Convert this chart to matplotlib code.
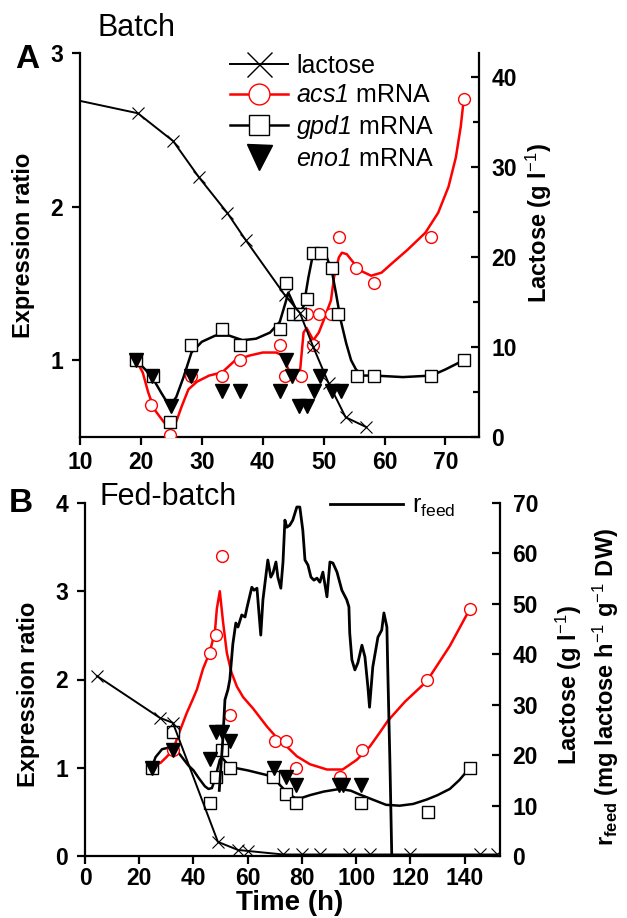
import matplotlib
matplotlib.use("Agg")
import matplotlib.pyplot as plt
from matplotlib.lines import Line2D

plt.rcParams["font.family"] = "Liberation Sans"
plt.rcParams["mathtext.fontset"] = "custom"
plt.rcParams["mathtext.rm"] = "Liberation Sans"
plt.rcParams["mathtext.it"] = "Liberation Sans:italic"
plt.rcParams["mathtext.bf"] = "Liberation Sans:bold"
plt.rcParams["mathtext.sf"] = "Liberation Sans:italic"  # gene names, digits included

# ---------------------------------------------------------------------------
# Panel A - batch
# ---------------------------------------------------------------------------
a_lac_t = [5, 19.5, 25.3, 29.5, 34.2, 37.2, 43.6, 46.1, 48.3, 50.8, 53.6, 57.0]
a_lac = [38.1, 36.0, 32.9, 28.9, 24.9, 21.9, 15.8, 13.8, 10.0, 6.0, 2.2, 1.1]

a_acs1_t = [19.2, 21.7, 24.8, 28.3, 33.3, 36.3, 42.8, 43.7, 46.2, 47.2, 48.3,
            49.2, 51.2, 52.5, 55.3, 58.3, 67.7, 73.0]
a_acs1 = [1.0, 0.71, 0.51, 0.9, 0.9, 1.0, 1.1, 0.9, 0.9, 1.3, 1.1,
          1.3, 1.3, 1.8, 1.6, 1.5, 1.8, 2.7]

a_gpd1_t = [19.2, 22.0, 24.8, 28.3, 33.3, 36.3, 42.8, 43.8, 45.0, 46.1, 47.3,
            48.2, 49.5, 51.3, 52.4, 55.4, 58.3, 67.7, 73.0]
a_gpd1 = [1.0, 0.9, 0.6, 1.1, 1.2, 1.1, 1.2, 1.5, 1.3, 1.3, 1.4,
          1.7, 1.7, 1.6, 1.3, 0.9, 0.9, 0.9, 1.0]

a_eno1_t = [19.2, 21.9, 24.9, 28.3, 33.3, 36.3, 42.8, 43.8, 44.8, 46.0, 47.2,
            48.4, 49.4, 51.3, 52.8]
a_eno1 = [1.0, 0.9, 0.7, 0.9, 0.8, 0.8, 0.8, 1.0, 0.9, 0.7, 0.7,
          0.8, 0.9, 0.8, 0.8]

# fitted curves
a_acs1_fit_t = [19.2, 20.3, 21.2, 22.2, 23.7, 24.7, 25.8, 26.7, 27.8, 29.2, 31.2,
                33.3, 35.5, 37.8, 40.0, 42.2, 43.3, 44.2, 44.7, 46.1, 46.7, 47.2,
                48.3, 49.2, 50.0, 51.2, 51.7, 52.5, 53.0, 53.8, 55.0, 56.2, 57.8,
                59.5, 61.2, 63.8, 66.7, 68.8, 70.5, 71.7, 72.5, 73.0]
a_acs1_fit = [1.0, 0.92, 0.79, 0.68, 0.60, 0.56, 0.60, 0.70, 0.81, 0.86, 0.90,
              0.92, 1.0, 1.03, 1.05, 1.05, 1.03, 0.94, 0.90, 0.92, 1.18, 1.21,
              1.13, 1.18, 1.26, 1.39, 1.54, 1.67, 1.70, 1.69, 1.63, 1.58, 1.55,
              1.57, 1.63, 1.72, 1.83, 1.96, 2.13, 2.32, 2.52, 2.70]

a_gpd1_fit_t = [19.2, 21.7, 23.3, 24.7, 25.8, 27.0, 28.3, 30.0, 32.2, 34.5, 36.7,
                38.9, 41.2, 42.8, 43.7, 44.2, 45.0, 45.8, 46.7, 47.5, 48.3, 49.5,
                50.5, 51.3, 52.0, 52.8, 53.7, 54.5, 55.3, 56.3, 58.3, 63.0, 67.7,
                70.0, 73.0]
a_gpd1_fit = [1.0, 0.9, 0.79, 0.70, 0.76, 0.89, 1.05, 1.12, 1.16, 1.16, 1.13,
              1.14, 1.18, 1.25, 1.37, 1.44, 1.37, 1.30, 1.35, 1.54, 1.70, 1.71,
              1.67, 1.59, 1.44, 1.26, 1.11, 1.0, 0.94, 0.9, 0.9, 0.89, 0.9,
              0.94, 1.0]

# ---------------------------------------------------------------------------
# Panel B - fed-batch
# ---------------------------------------------------------------------------
b_lac_t = [4.4, 27.6, 32.4, 49.0, 56.4, 60.0, 73.0, 80.0, 86.5, 97.5, 105.0,
           120.0, 145.5, 152.0]
b_lac = [35.7, 27.4, 26.4, 2.8, 1.2, 1.0, 0.3, 0.3, 0.3, 0.3, 0.3,
         0.3, 0.3, 0.3]

b_acs1_t = [24.6, 32.4, 46.0, 48.3, 50.4, 53.4, 70.0, 74.2, 77.7, 94.0, 102.0,
            126.2, 141.9]
b_acs1 = [1.0, 1.2, 2.3, 2.5, 3.4, 1.6, 1.3, 1.3, 1.0, 0.9, 1.2, 2.0, 2.8]

b_gpd1_t = [24.6, 32.4, 46.2, 48.3, 50.4, 53.4, 69.3, 74.0, 77.7, 101.7,
            126.4, 141.9]
b_gpd1 = [1.0, 1.4, 0.6, 0.9, 1.2, 1.0, 0.9, 0.7, 0.6, 0.6, 0.5, 1.0]

b_eno1_t = [24.6, 32.4, 46.1, 48.3, 50.6, 53.4, 69.8, 74.2, 77.7, 93.8, 95.2, 101.7]
b_eno1 = [1.0, 1.2, 1.1, 1.4, 1.4, 1.3, 1.0, 0.9, 0.8, 0.8, 0.8, 0.8]

b_acs1_fit_t = [24.6, 28.0, 30.0, 32.4, 35.0, 37.5, 39.8, 41.3, 43.5, 46.0, 47.9,
                48.6, 49.7, 50.9, 52.3, 54.0, 56.0, 58.3, 62.0, 67.0, 70.7, 74.4,
                78.1, 82.9, 89.2, 95.0, 100.2, 105.0, 108.7, 111.6, 118.0, 126.0,
                134.5, 141.9]
b_acs1_fit = [1.0, 1.06, 1.12, 1.2, 1.42, 1.62, 1.78, 1.89, 2.12, 2.31, 2.54,
              2.8, 3.0, 2.65, 2.3, 2.08, 1.92, 1.8, 1.67, 1.47, 1.34, 1.24,
              1.13, 1.04, 0.98, 0.98, 1.09, 1.24, 1.4, 1.53, 1.75, 1.98,
              2.38, 2.8]

b_gpd1_fit_t = [24.6, 26.0, 28.4, 32.4, 35.0, 38.0, 40.0, 42.0, 44.2, 45.5, 46.8,
                47.9, 49.7, 50.4, 52.0, 53.4, 60.0, 69.3, 72.0, 75.0, 77.4, 80.0,
                83.0, 88.0, 94.0, 98.0, 101.0, 106.0, 111.0, 116.0, 121.0, 126.0,
                130.0, 134.5, 138.0, 141.9]
b_gpd1_fit = [1.0, 1.12, 1.21, 1.24, 1.15, 1.03, 0.97, 0.88, 0.79, 0.76, 0.77,
              0.87, 1.09, 1.12, 1.06, 1.01, 0.97, 0.9, 0.8, 0.7, 0.66, 0.66,
              0.69, 0.73, 0.76, 0.74, 0.7, 0.64, 0.58, 0.57, 0.59, 0.64,
              0.69, 0.76, 0.86, 1.0]

rfeed_t = [49.5, 50.8, 51.6, 52.7, 53.4, 54.5, 55.6, 56.4, 57.8, 59.0, 59.7,
           61.5, 62.3, 63.4, 64.8, 65.6, 67.4, 68.5, 69.3, 70.4, 71.1, 72.2,
           73.0, 73.7, 74.4, 75.5, 76.6, 78.1, 79.2, 80.3, 81.1, 82.2, 83.3,
           84.4, 85.5, 86.6, 87.7, 89.2, 90.3, 91.4, 92.9, 94.7, 96.5, 97.3,
           97.6, 98.4, 99.5, 100.6, 102.1, 103.2, 104.3, 104.9, 106.1, 108.0,
           109.4, 110.2, 111.3, 111.6, 112.4, 113.1]
rfeed = [13.0, 23.0, 31.0, 33.0, 35.0, 42.0, 46.2, 45.4, 47.8, 47.4, 49.2,
         53.3, 52.7, 53.1, 43.8, 50.8, 58.7, 55.3, 56.1, 58.3, 55.3, 53.1,
         58.3, 66.6, 65.2, 65.6, 66.6, 69.2, 69.2, 64.6, 58.7, 57.7, 55.3,
         54.7, 55.1, 54.3, 56.3, 51.4, 58.3, 58.1, 56.3, 52.7, 50.8, 49.4,
         44.2, 38.9, 36.9, 38.3, 41.8, 39.5, 33.5, 29.5, 37.5, 43.4,
         44.8, 48.2, 45.4, 37.5, 19.0, 0.0]

W, H = 627, 918
TICK_FS = 16.5
LABEL_FS = 17
RED = "#ff0000"


def fig_box(left, top, right, bottom):
    """Pixel box -> figure fraction rect."""
    return [left / W, 1 - bottom / H, (right - left) / W, (bottom - top) / H]


def style(ax, ax2, xticks, yticks, y2ticks, xpad, y2minor=None):
    for s in ("top", "right"):
        ax.spines[s].set_visible(False)
    for s in ("top", "left", "bottom"):
        ax2.spines[s].set_visible(False)
    ax.spines["left"].set_linewidth(1.6)
    ax.spines["bottom"].set_linewidth(1.6)
    ax2.spines["right"].set_linewidth(1.6)
    ax.set_xticks(xticks, labels=[str(v) for v in xticks],
                  fontweight="bold", fontsize=TICK_FS)
    ax.set_yticks(yticks, labels=[str(v) for v in yticks],
                  fontweight="bold", fontsize=TICK_FS)
    ax2.set_yticks(y2ticks, labels=[str(v) for v in y2ticks],
                   fontweight="bold", fontsize=TICK_FS)
    if y2minor:
        ax2.set_yticks(y2minor, minor=True)
    ax.tick_params(axis="x", direction="out", length=6, width=1.6, pad=xpad)
    ax.tick_params(axis="y", direction="out", length=6, width=1.6, pad=6)
    ax2.tick_params(axis="y", which="major", direction="in", length=6,
                    width=1.6, pad=9)
    ax2.tick_params(axis="y", which="minor", direction="in", length=4, width=1.6)


fig = plt.figure(figsize=(W / 100, H / 100), dpi=100)

# ----------------------------- panel A -------------------------------------
axA = fig.add_axes(fig_box(80, 53, 479, 437))
axA2 = axA.twinx()

axA.plot(a_acs1_fit_t, a_acs1_fit, color=RED, lw=1.8, zorder=2)
axA.plot(a_gpd1_fit_t, a_gpd1_fit, color="black", lw=1.8, zorder=2)
axA.plot(a_acs1_t, a_acs1, ls="none", marker="o", ms=8.5, mfc="white",
         mec=RED, mew=1.0, zorder=3)
axA.plot(a_gpd1_t, a_gpd1, ls="none", marker="s", ms=8.2, mfc="white",
         mec="black", mew=1.0, zorder=4)
axA.plot(a_eno1_t, a_eno1, ls="none", marker="v", ms=9.5, color="black", zorder=5)
axA2.plot(a_lac_t, a_lac, color="black", lw=1.4, marker="x", ms=9, mew=0.8)

axA.set_xlim(10, 75.5)
axA.set_ylim(0.5, 3.0)
axA2.set_ylim(0, 42.7)
style(axA, axA2, [10, 20, 30, 40, 50, 60, 70], [1, 2, 3], [0, 10, 20, 30, 40],
      xpad=4, y2minor=[5, 15, 25, 35])

handles = [
    Line2D([], [], color="black", lw=1.4, marker="x", ms=18, mew=1.0),
    Line2D([], [], color=RED, lw=1.8, marker="o", ms=15, mfc="white", mec=RED, mew=1.0),
    Line2D([], [], color="black", lw=1.8, marker="s", ms=15, mfc="white", mec="black", mew=1.0),
    Line2D([], [], ls="none", color="black", marker="v", ms=18),
]
labels = ["lactose", r"$\mathsf{acs1}$ mRNA", r"$\mathsf{gpd1}$ mRNA",
          r"$\mathsf{eno1}$ mRNA"]
axA2.legend(handles, labels, loc="upper left", frameon=False, fontsize=18,
            bbox_to_anchor=(230 / W, 1 - 54 / H), bbox_transform=fig.transFigure,
            borderpad=0, borderaxespad=0, handlelength=2.3, handletextpad=0.35,
            labelspacing=0.22)

fig.text(97 / W, 1 - 28 / H, "Batch", fontsize=22, va="center", ha="left")
fig.text(15 / W, 1 - 59 / H, "A", fontsize=24, fontweight="bold", va="center")
fig.text(24 / W, 1 - 245 / H, "Expression ratio", fontsize=LABEL_FS,
         fontweight="bold", rotation=90, va="center", ha="center")
fig.text(539 / W, 1 - 223 / H, r"Lactose (g l$^{-1}$)", fontsize=LABEL_FS,
         fontweight="bold", rotation=90, va="center", ha="center")

# ----------------------------- panel B -------------------------------------
axB = fig.add_axes(fig_box(85, 503, 500, 856))
axB2 = axB.twinx()

axB.plot(b_acs1_fit_t, b_acs1_fit, color=RED, lw=1.8, zorder=2)
axB.plot(b_gpd1_fit_t, b_gpd1_fit, color="black", lw=1.8, zorder=2)
axB.plot(b_acs1_t, b_acs1, ls="none", marker="o", ms=8.5, mfc="white",
         mec=RED, mew=1.0, zorder=3)
axB.plot(b_gpd1_t, b_gpd1, ls="none", marker="s", ms=8.2, mfc="white",
         mec="black", mew=1.0, zorder=4)
axB.plot(b_eno1_t, b_eno1, ls="none", marker="v", ms=9.5, color="black", zorder=5)
axB2.plot(b_lac_t, b_lac, color="black", lw=1.4, marker="x", ms=9, mew=0.8)
axB2.plot(rfeed_t, rfeed, color="black", lw=2.0)

axB.set_xlim(0, 153)
axB.set_ylim(0, 4)
axB2.set_ylim(0, 70)
style(axB, axB2, [0, 20, 40, 60, 80, 100, 120, 140], [0, 1, 2, 3, 4],
      [0, 10, 20, 30, 40, 50, 60, 70], xpad=2)

axB2.legend([Line2D([], [], color="black", lw=2.0)], [r"r$_\mathregular{feed}$"],
            loc="upper left", frameon=False, fontsize=18,
            bbox_to_anchor=(330 / W, 1 - 494 / H), bbox_transform=fig.transFigure,
            borderpad=0, borderaxespad=0, handlelength=2.9, handletextpad=0.4)

fig.text(100 / W, 1 - 497 / H, "Fed-batch", fontsize=22, va="center", ha="left")
fig.text(9 / W, 1 - 504 / H, "B", fontsize=24, fontweight="bold", va="center")
fig.text(29 / W, 1 - 694 / H, "Expression ratio", fontsize=LABEL_FS,
         fontweight="bold", rotation=90, va="center", ha="center")
fig.text(569 / W, 1 - 685 / H, r"Lactose (g l$^{-1}$)", fontsize=LABEL_FS,
         fontweight="bold", rotation=90, va="center", ha="center")
fig.text(606 / W, 1 - 687 / H,
         r"r$_\mathregular{feed}$ (mg lactose h$^{-1}$ g$^{-1}$ DW)",
         fontsize=LABEL_FS, fontweight="bold", rotation=90, va="center",
         ha="center")
fig.text(290 / W, 1 - 903 / H, "Time (h)", fontsize=20, fontweight="bold",
         va="center", ha="center")

fig.savefig("out.png", dpi=100)
